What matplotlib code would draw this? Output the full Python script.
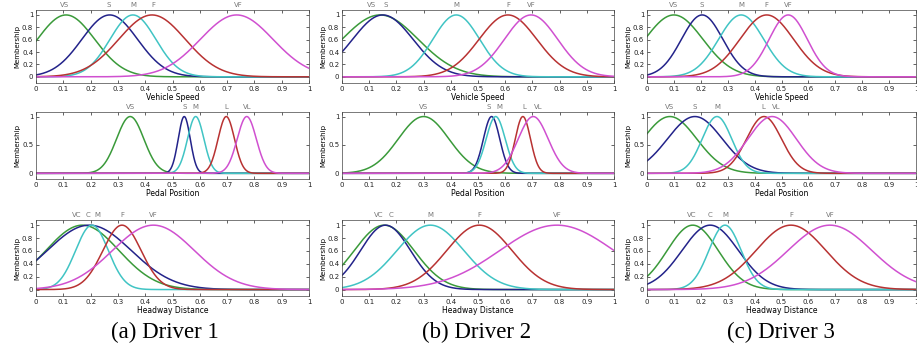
import numpy as np
import matplotlib.pyplot as plt

# inputs (rows) and membership function names
input_names = ['Vehicle Speed', 'Pedal Position', 'Headway Distance']
mf_names = [['VS', 'S', 'M', 'F', 'VF'],
            ['VS', 'S', 'M', 'L', 'VL'],
            ['VC', 'C', 'M', 'F', 'VF']]
captions = ['(a) Driver 1', '(b) Driver 2', '(c) Driver 3']

# gaussian MF centres / widths, [driver][input][mf]
centers = [
    [[0.11, 0.27, 0.355, 0.425, 0.735],
     [0.345, 0.543, 0.585, 0.697, 0.772],
     [0.17, 0.195, 0.205, 0.315, 0.43]],
    [[0.14, 0.15, 0.42, 0.61, 0.695],
     [0.30, 0.55, 0.565, 0.665, 0.703],
     [0.155, 0.16, 0.325, 0.505, 0.79]],
    [[0.10, 0.205, 0.35, 0.445, 0.525],
     [0.085, 0.178, 0.26, 0.435, 0.465],
     [0.17, 0.235, 0.29, 0.535, 0.68]],
]
sigmas = [
    [[0.105, 0.102, 0.084, 0.122, 0.133],
     [0.05, 0.022, 0.03, 0.03, 0.035],
     [0.134, 0.154, 0.06, 0.07, 0.15]],
    [[0.14, 0.111, 0.086, 0.106, 0.098],
     [0.093, 0.03, 0.035, 0.028, 0.055],
     [0.11, 0.092, 0.123, 0.12, 0.21]],
    [[0.108, 0.077, 0.084, 0.10, 0.071],
     [0.10, 0.102, 0.055, 0.065, 0.09],
     [0.095, 0.105, 0.06, 0.13, 0.156]],
]
# where the MF names sit above each panel (spread apart when peaks are close)
label_pos = [
    [[0.105, 0.265, 0.355, 0.43, 0.74],
     [0.345, 0.543, 0.585, 0.697, 0.772],
     [0.15, 0.19, 0.225, 0.315, 0.43]],
    [[0.11, 0.16, 0.42, 0.61, 0.695],
     [0.30, 0.54, 0.58, 0.67, 0.72],
     [0.136, 0.18, 0.325, 0.505, 0.79]],
    [[0.10, 0.205, 0.35, 0.445, 0.525],
     [0.085, 0.178, 0.26, 0.433, 0.48],
     [0.165, 0.235, 0.29, 0.535, 0.68]],
]
line_colors = ['#3a9a3a', '#23238a', '#40c4c4', '#b83232', '#d050d0']

W, H = 917, 350
col_x = [(36, 309), (342, 614), (647, 916)]
row_y = [(10, 83), (112, 179), (220, 296)]
caption_x = [165, 477, 781]

fig = plt.figure(figsize=(W / 100, H / 100), dpi=100)
x = np.linspace(0, 1, 501)

for d in range(3):
    for r in range(3):
        x0, x1 = col_x[d]
        y0, y1 = row_y[r]
        ax = fig.add_axes([x0 / W, 1 - y1 / H, (x1 - x0) / W, (y1 - y0) / H])
        for k in range(5):
            c = centers[d][r][k]
            s = sigmas[d][r][k]
            ax.plot(x, np.exp(-(x - c) ** 2 / (2 * s ** 2)),
                    color=line_colors[k], lw=1.1)
            ax.text(label_pos[d][r][k], 1.03, mf_names[r][k],
                    transform=ax.get_xaxis_transform(),
                    ha='center', va='bottom', fontsize=5, color='#777777')
        ax.set_xlim(0, 1)
        ax.set_ylim(-0.1, 1.08)
        ax.set_xticks(np.arange(0, 1.01, 0.1))
        ax.set_xticklabels(['0'] + ['%.1f' % v for v in np.arange(0.1, 0.95, 0.1)] + ['1'])
        if r == 1:
            ax.set_yticks([0, 0.5, 1])
            ax.set_yticklabels(['0', '0.5', '1'])
        else:
            ax.set_yticks(np.arange(0, 1.01, 0.2))
            ax.set_yticklabels(['0', '0.2', '0.4', '0.6', '0.8', '1'])
        ax.tick_params(direction='in', top=True, right=True, length=2,
                       width=0.5, labelsize=5, pad=2, colors='#222222')
        for sp in ax.spines.values():
            sp.set_linewidth(0.5)
            sp.set_color('#444444')
        ax.set_xlabel(input_names[r], fontsize=5.5, labelpad=1)
        ax.set_ylabel('Membership', fontsize=5, labelpad=1)
    fig.text(caption_x[d] / W, 1 - 332 / H, captions[d],
             ha='center', va='center', fontsize=16.5, family='Liberation Serif')

fig.savefig('out.png', dpi=100)
